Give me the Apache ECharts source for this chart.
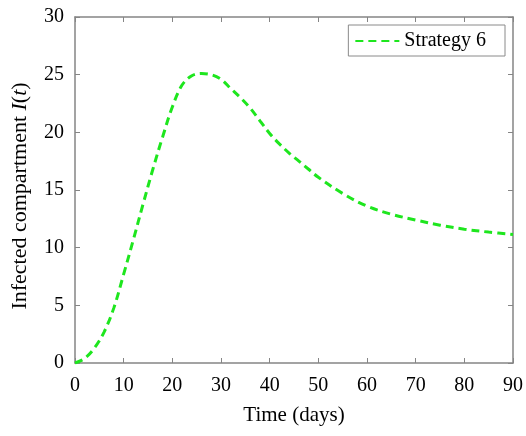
<!DOCTYPE html>
<html>
<head>
<meta charset="utf-8">
<script src="https://cdn.jsdelivr.net/npm/echarts@6/dist/echarts.min.js"></script>
<style>
html,body{margin:0;padding:0;background:#fff;}
#c{width:526px;height:436px;}
</style>
</head>
<body>
<div id="c"></div>
<script>
const days = [0,2,4,6,8,10,12,14,16,18,20,22,24,26,28,30,32,34,36,38,40,42,44,46,48,50,55,60,65,70,75,80,85,90];
const infected = [0,0.4,1.3,2.7,4.8,7.7,10.7,13.8,16.8,19.6,22.2,24.1,24.9,25.1,25.0,24.6,23.8,23.0,22.1,21.0,19.9,19.0,18.2,17.5,16.8,16.1,14.7,13.6,12.9,12.4,11.95,11.6,11.35,11.15];
const seriesName = 'Strategy 6';
const xTicks = [0,10,20,30,40,50,60,70,80,90];
const yTicks = [0,5,10,15,20,25,30];

const font = 'Liberation Serif';
const axisCol = '#858585';
const chart = echarts.init(document.getElementById('c'));
const axisCommon = {
  axisLine: {show: true, onZero: false, lineStyle: {color: axisCol, width: 1.5}},
  axisTick: {show: true, inside: true, length: 5, lineStyle: {color: axisCol}},
  splitLine: {show: false}
};
chart.setOption({
  animation: false,
  backgroundColor: '#fff',
  grid: {left: 75, right: 11, top: 17, bottom: 73},
  legend: {
    data: [seriesName],
    right: 21, top: 25,
    padding: [6, 19, 5, 6],
    borderColor: '#8a8a8a', borderWidth: 1,
    itemWidth: 44, itemHeight: 14,
    itemStyle: {opacity: 0},
    textStyle: {fontFamily: font, fontSize: 20, color: '#000'}
  },
  xAxis: [
    Object.assign({
      type: 'value', min: xTicks[0], max: xTicks[xTicks.length-1], interval: 10,
      name: 'Time (days)', nameLocation: 'middle', nameGap: 42,
      nameTextStyle: {fontFamily: font, fontSize: 21, color: '#000'},
      axisLabel: {fontFamily: font, fontSize: 20, color: '#000', margin: 13}
    }, axisCommon),
    Object.assign({
      type: 'value', position: 'top', min: xTicks[0], max: xTicks[xTicks.length-1], interval: 10,
      axisLabel: {show: false}
    }, axisCommon)
  ],
  yAxis: [
    Object.assign({
      type: 'value', min: yTicks[0], max: yTicks[yTicks.length-1], interval: 5,
      name: '{n|Infected compartment }{i|I}{n|(}{i|t}{n|)}', nameLocation: 'middle', nameGap: 44,
      nameTextStyle: {
        fontFamily: font, fontSize: 22, color: '#000', padding: [0, 12, 0, 0],
        rich: {
          n: {fontFamily: font, fontSize: 22, color: '#000'},
          i: {fontFamily: font, fontSize: 22, color: '#000', fontStyle: 'italic'}
        }
      },
      axisLabel: {fontFamily: font, fontSize: 20, color: '#000', margin: 11}
    }, axisCommon),
    Object.assign({
      type: 'value', position: 'right', min: yTicks[0], max: yTicks[yTicks.length-1], interval: 5,
      axisLabel: {show: false}
    }, axisCommon)
  ],
  series: [{
    name: seriesName,
    type: 'line',
    data: days.map((d, i) => [d, infected[i]]),
    smooth: 0.35,
    symbol: 'none',
    color: '#1ee61e',
    lineStyle: {color: '#1ee61e', width: 3, type: [8, 5]}
  }]
});
</script>
</body>
</html>
